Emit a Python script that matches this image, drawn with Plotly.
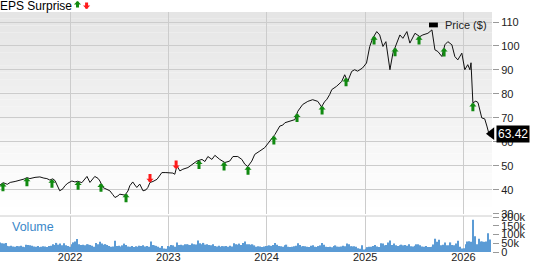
import numpy as np
import pandas as pd
import plotly.graph_objects as go

# ---------------- data ----------------
price_dates = [
    "2021-04-16","2021-04-28","2021-05-13","2021-05-24","2021-06-11","2021-06-30","2021-07-14","2021-07-25",
    "2021-08-05","2021-08-24","2021-09-11","2021-09-26","2021-10-07","2021-10-18","2021-10-29","2021-11-06",
    "2021-11-17","2021-11-24","2021-12-06","2021-12-13","2021-12-24","2022-01-08","2022-01-19","2022-01-30",
    "2022-02-14","2022-02-25","2022-03-05","2022-03-16","2022-03-27","2022-04-03","2022-04-15","2022-04-22",
    "2022-05-03","2022-05-14","2022-05-29","2022-06-09","2022-06-17","2022-06-28","2022-07-05","2022-07-24",
    "2022-08-04","2022-08-11","2022-08-22","2022-08-30","2022-09-06","2022-09-17","2022-09-29","2022-10-10",
    "2022-10-17","2022-10-25","2022-11-05","2022-11-20","2022-12-01","2022-12-08","2022-12-23","2023-01-07",
    "2023-01-18","2023-01-25","2023-02-02","2023-02-13","2023-02-24","2023-03-15","2023-03-30","2023-04-17",
    "2023-05-06","2023-05-17","2023-05-28","2023-06-12","2023-06-23","2023-07-11","2023-07-30","2023-08-17",
    "2023-08-29","2023-09-16","2023-10-01","2023-10-12","2023-10-23","2023-11-07","2023-11-18","2023-11-29",
    "2023-12-07","2023-12-25","2024-01-13","2024-02-01","2024-02-19","2024-03-01","2024-03-09","2024-03-27",
    "2024-04-15","2024-04-26","2024-05-14","2024-06-02","2024-06-20","2024-07-09","2024-07-23","2024-08-04",
    "2024-08-11","2024-08-22","2024-08-30","2024-09-17","2024-10-06","2024-10-17","2024-10-28","2024-11-12",
    "2024-11-23","2024-12-04","2024-12-22","2025-01-06","2025-01-18","2025-01-29","2025-02-13","2025-02-24",
    "2025-03-08","2025-03-19","2025-03-26","2025-04-03","2025-04-14","2025-04-29","2025-05-10","2025-05-21",
    "2025-06-05","2025-06-16","2025-07-05","2025-07-23","2025-08-03","2025-08-22","2025-09-06","2025-09-17",
    "2025-09-28","2025-10-13","2025-10-24","2025-11-04","2025-11-19","2025-11-30","2025-12-11","2025-12-26",
    "2026-01-06","2026-01-17","2026-01-25","2026-01-29","2026-02-02","2026-02-05","2026-02-16","2026-02-24",
    "2026-03-10","2026-03-21","2026-03-29","2026-04-08","2026-04-15",
]
price_vals = [
    42.0, 43.0, 42.3, 43.1, 43.5, 44.0, 44.5, 45.1,
    44.7, 45.2, 45.4, 44.9, 44.7, 44.1, 44.6, 43.9,
    41.5, 39.6, 40.5, 41.7, 42.8, 43.7, 43.3, 43.6,
    43.0, 44.5, 45.6, 43.1, 44.8, 45.6, 44.8, 43.7,
    41.0, 40.5, 39.6, 38.0, 36.8, 37.5, 38.2, 37.8,
    39.5, 41.7, 43.3, 42.0, 41.0, 42.4, 39.6, 40.0,
    41.0, 43.1, 43.5, 44.4, 46.0, 47.2, 47.2, 47.2,
    47.0, 46.5, 50.0, 47.9, 48.6, 49.3, 50.7, 52.0,
    52.7, 51.8, 53.9, 52.7, 54.4, 52.7, 51.4, 52.0,
    53.9, 53.9, 52.7, 50.7, 49.7, 52.0, 54.8, 55.5,
    56.2, 57.6, 60.3, 63.1, 66.6, 67.0, 68.0, 68.6,
    69.3, 72.8, 75.6, 76.9, 77.6, 76.9, 74.6, 76.9,
    77.6, 79.7, 81.8, 83.2, 85.2, 88.0, 85.2, 89.4,
    90.1, 89.5, 90.8, 92.9, 99.8, 103.2, 106.0, 104.6,
    99.8, 101.8, 95.6, 90.1, 97.0, 101.2, 104.6, 103.2,
    106.0, 101.2, 105.3, 103.9, 104.6, 105.3, 106.7, 98.4,
    97.7, 95.6, 100.5, 101.8, 100.5, 95.6, 94.2, 97.0,
    90.1, 92.2, 90.1, 93.0, 85.0, 76.3, 77.0, 76.4,
    70.0, 69.6, 66.6, 62.4, 63.42,
]

event_dates = [
    "2021-04-27","2021-07-25","2021-10-26","2022-01-31","2022-04-26","2022-07-28","2022-10-25","2023-01-30",
    "2023-04-25","2023-07-27","2023-10-24","2024-01-28","2024-04-23","2024-07-25","2024-10-22","2025-02-03",
    "2025-04-22","2025-07-20","2025-10-21","2026-02-05",
]
event_beat = [
    True, True, True, True, True, True, False, False,
    True, True, True, True, True, True, True, True,
    True, True, True, True,
]

volume_start = "2021-04-16"
volume_k = [
    55,50,48,52,
    35,33,36,32,30,34,33,36,30,28,
    42,40,38,36,
    32,30,35,28,30,33,31,29,34,36,
    45,40,52,42,48,38,50,
    38,35,30,
    45,55,60,75,45,
    40,42,38,44,43,40,36,30,
    52,45,58,48,42,45,40,
    35,30,32,
    65,
    35,36,32,38,
    48,40,
    32,30,35,28,33,30,36,34,38,32,35,30,
    60,
    40,38,35,30,
    25,35,20,18,
    35,32,40,38,30,
    55,
    40,42,38,45,44,42,40,48,45,43,
    66,
    50,45,52,42,45,40,38,44,
    35,32,36,30,34,33,35,30,36,32,
    50,
    45,42,48,40,52,60,45,
    45,42,44,38,30,33,31,29,32,34,36,38,35,40,52,42,35,33,30,38,
    42,30,28,30,33,36,50,40,32,34,33,30,28,36,38,30,28,34,38,52,
    42,30,28,30,27,34,38,31,30,32,36,33,48,44,33,32,33,30,22,19,
    38,15,18,28,30,30,35,40,32,28,50,48,38,40,55,66,40,48,38,35,
    38,42,38,40,36,44,33,32,36,44,44,38,32,30,34,28,28,30,43,76,
    58,70,38,42,55,38,38,55,40,38,48,64,30,20,22,45,60,62,58,185,
    90,45,76,60,60,58,60,108,72,
]

price_ticks = [30, 40, 50, 60, 70, 80, 90, 100, 110]
volume_ticks = [0, 50000, 100000, 150000, 200000]
year_ticks = ["2022-01-01", "2023-01-01", "2024-01-01", "2025-01-01", "2026-01-01"]
year_labels = ["2022", "2023", "2024", "2025", "2026"]
last_price_label = "63.42"

# ---------------- figure ----------------
FONT = "Liberation Sans, Arial, sans-serif"
GRID = "#cccccc"
UP = "#118a11"
DOWN = "#ff1a1a"

volume = [v * 1000 for v in volume_k]
vol_dates = pd.date_range(volume_start, periods=len(volume), freq="7D")

fig = go.Figure()

fig.add_trace(go.Bar(
    x=vol_dates, y=volume, xaxis="x", yaxis="y2",
    marker=dict(color="#5b9bd5", line=dict(width=0)),
    showlegend=False, hoverinfo="skip",
))

fig.add_trace(go.Scatter(
    x=pd.to_datetime(price_dates), y=price_vals, xaxis="x2", yaxis="y",
    mode="lines", line=dict(color="#111111", width=1),
    showlegend=False,
))

# last price marker (triangle pointing to the end of the line)
fig.add_trace(go.Scatter(
    x=[pd.to_datetime(price_dates[-1])], y=[price_vals[-1]], xaxis="x2", yaxis="y",
    mode="markers", marker=dict(symbol="triangle-left", size=11, color="black"),
    cliponaxis=False, showlegend=False, hoverinfo="skip",
))

# gradient background of the price panel
n_bands = 30
for i in range(n_bands):
    t = i / (n_bands - 1)
    c = int(round(229 + (255 - 229) * t))
    fig.add_shape(type="rect", xref="x2 domain", yref="y domain",
                  x0=0, x1=1, y0=1 - (i + 1) / n_bands, y1=1 - i / n_bands,
                  fillcolor=f"rgb({c},{c},{c})", line=dict(width=0), layer="below")

# top border of the volume panel
fig.add_shape(type="line", xref="x domain", yref="y2 domain", x0=0, x1=1, y0=1, y1=1,
              line=dict(color=GRID, width=1), layer="below")

annotations = []
# earnings surprise arrows
ev_num = pd.to_datetime(event_dates).astype("int64").to_numpy()
pr_num = pd.to_datetime(price_dates).astype("int64").to_numpy()
ev_y = np.interp(ev_num, pr_num, price_vals)
for d, yv, beat in zip(event_dates, ev_y, event_beat):
    annotations.append(dict(
        x=d, y=yv, xref="x2", yref="y", text="", showarrow=True,
        ax=0, ay=10 if beat else -10,
        arrowhead=1, arrowsize=0.4, arrowwidth=3,
        arrowcolor=UP if beat else DOWN,
    ))

annotations += [
    dict(x=0, y=1.026, xref="paper", yref="paper", xanchor="left", yanchor="middle",
         text="EPS Surprise", showarrow=False, xshift=-2,
         font=dict(family=FONT, size=12, color="black")),
    dict(x=0.1575, y=1.046, xref="paper", yref="paper", text="", showarrow=True,
         ax=0, ay=8, arrowhead=1, arrowsize=0.4, arrowwidth=3, arrowcolor=UP),
    dict(x=0.176, y=1.012, xref="paper", yref="paper", text="", showarrow=True,
         ax=0, ay=-8, arrowhead=1, arrowsize=0.4, arrowwidth=3, arrowcolor=DOWN),
    dict(x=0.02, y=0.7, xref="x domain", yref="y2 domain", xanchor="left", yanchor="middle",
         text="Volume", showarrow=False, font=dict(family=FONT, size=12.5, color="#3a88c9")),
    dict(x=0.9, y=0.945, xref="paper", yref="paper", xanchor="left", yanchor="middle",
         text="Price ($)", showarrow=False, font=dict(family=FONT, size=11, color="#222222")),
    dict(x=1, y=price_vals[-1], xref="paper", yref="y", xanchor="left", yanchor="middle",
         xshift=4, text=last_price_label, showarrow=False, bgcolor="black", borderpad=1,
         font=dict(family=FONT, size=12, color="white")),
]

# legend swatch
fig.add_shape(type="rect", xref="paper", yref="paper", x0=0.872, x1=0.89, y0=0.936, y1=0.956,
              fillcolor="black", line=dict(width=0))

x_range = ["2021-04-16", "2026-04-17"]

fig.update_layout(
    width=533, height=262,
    margin=dict(l=0, r=41, t=12, b=10, autoexpand=False),
    paper_bgcolor="white", plot_bgcolor="white",
    font=dict(family=FONT, size=11, color="#333333"),
    bargap=0.35,
    annotations=annotations,
    xaxis=dict(
        range=x_range, type="date", anchor="y2", automargin=False,
        tickvals=year_ticks, ticktext=year_labels, ticklabelstandoff=-3,
        showgrid=True, gridcolor=GRID, gridwidth=1,
        ticks="", showline=False, zeroline=False,
        tickfont=dict(family=FONT, size=11, color="#222222"),
    ),
    xaxis2=dict(
        range=x_range, type="date", anchor="y", matches="x", automargin=False,
        tickvals=year_ticks, showticklabels=False,
        showgrid=True, gridcolor=GRID, gridwidth=1,
        ticks="", showline=False, zeroline=False,
    ),
    yaxis=dict(
        domain=[0.159, 1], range=[30, 114.17], side="right", anchor="x2", automargin=False,
        tickvals=price_ticks, showgrid=True, gridcolor=GRID, gridwidth=1,
        ticks="outside", ticklen=6, tickcolor="#999999",
        zeroline=False, showline=False,
        tickfont=dict(family=FONT, size=11, color="#222222"),
    ),
    yaxis2=dict(
        domain=[0, 0.15], range=[0, 206000], side="right", anchor="x", automargin=False,
        tickvals=volume_ticks, tickformat="~s", showgrid=False,
        ticks="outside", ticklen=6, tickcolor="#999999",
        zeroline=False, showline=False,
        tickfont=dict(family=FONT, size=11, color="#222222"),
    ),
)

fig.write_html("out.html")
